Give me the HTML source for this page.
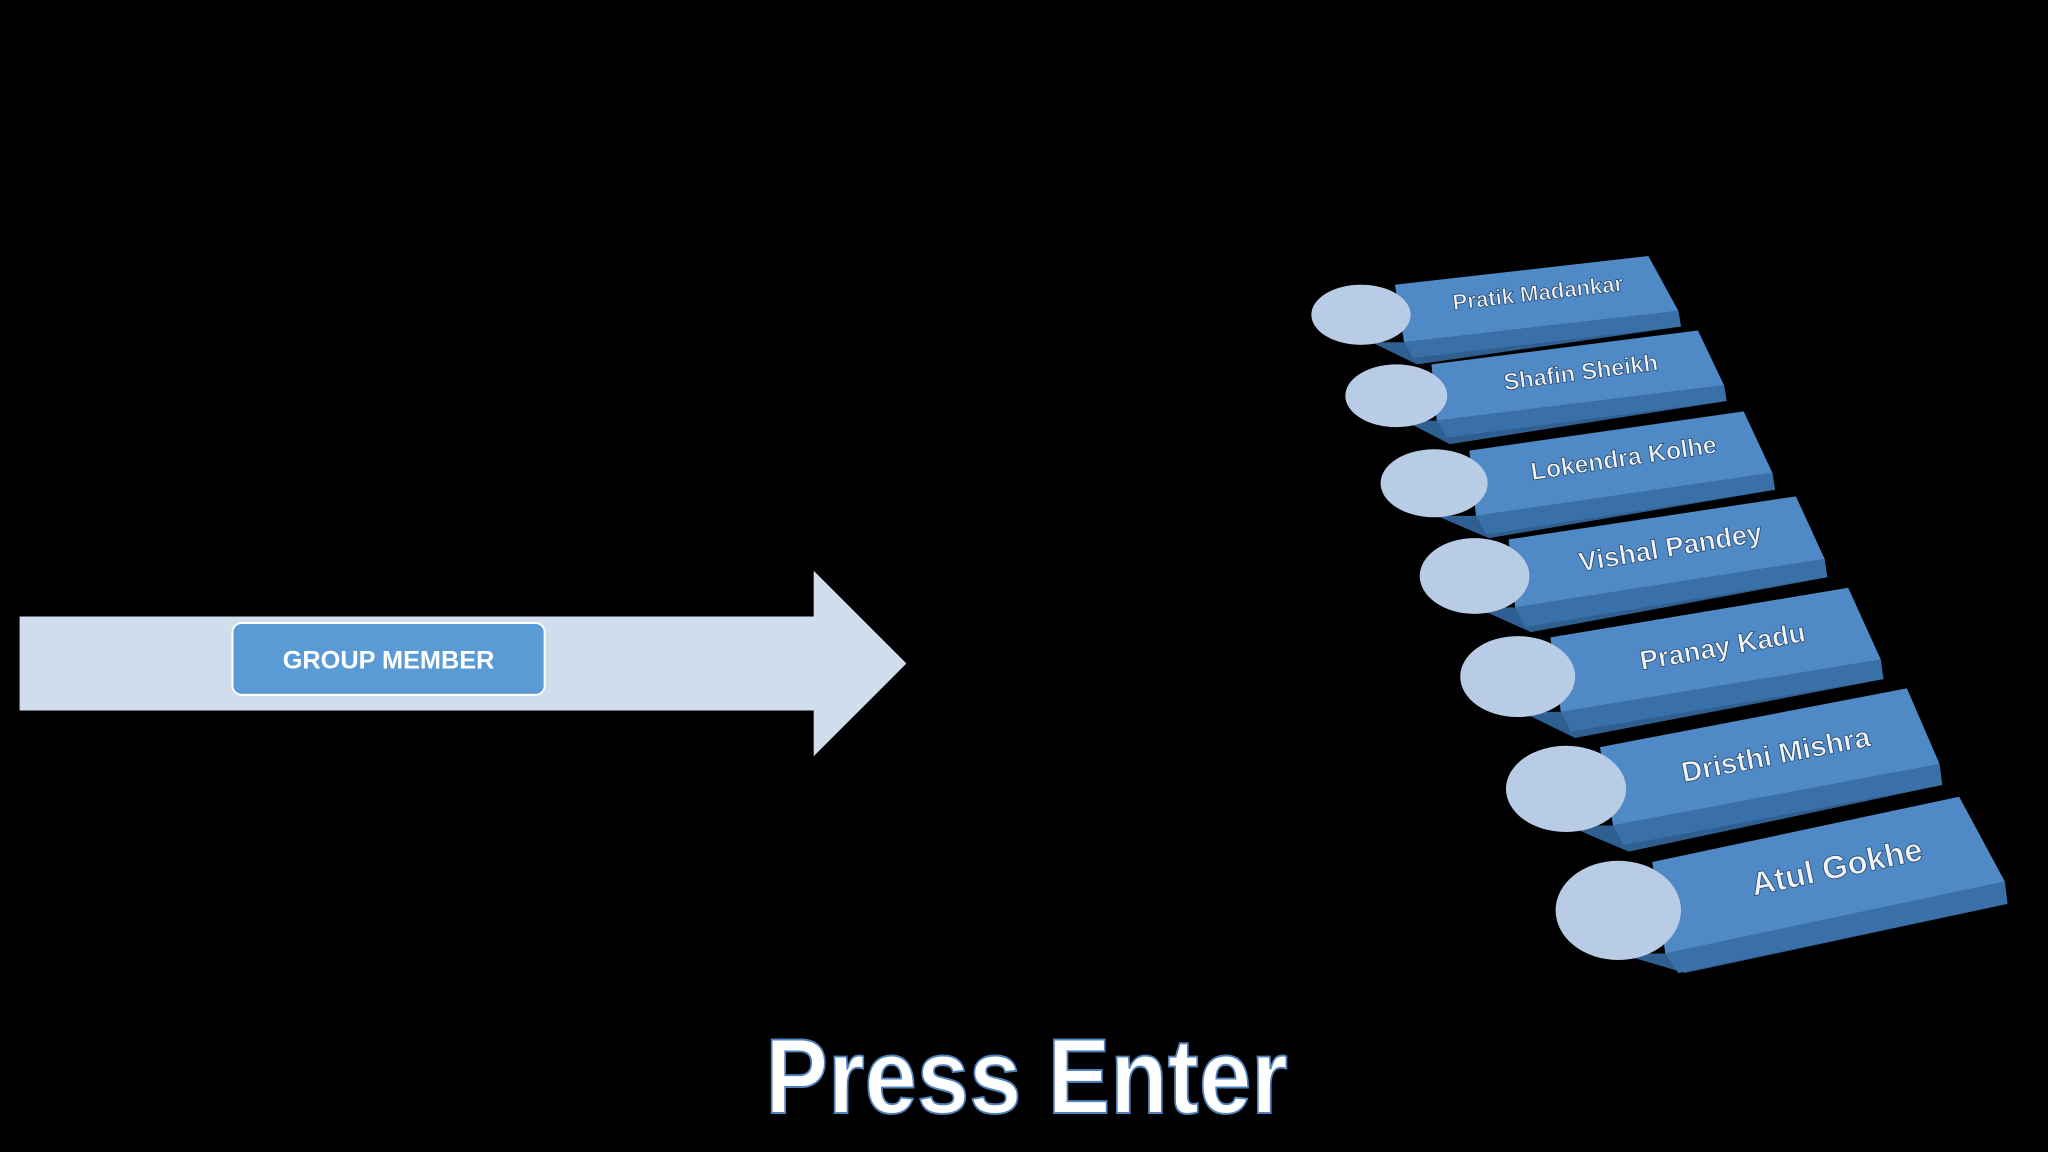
<!DOCTYPE html>
<html><head><meta charset="utf-8"><style>
html,body{margin:0;padding:0;background:#000;}
svg{display:block;}
</style></head><body>
<svg width="2048" height="1152" viewBox="0 0 1568 882" preserveAspectRatio="none" xmlns="http://www.w3.org/2000/svg" font-family="'Liberation Sans', sans-serif">
<rect width="1568" height="882" fill="#000"/>
<polygon points="15,472 623,472 623,437 694,508 623,579 623,544 15,544" fill="#d0dded"/>
<rect x="178" y="477" width="239" height="55" rx="7" fill="#5b9bd5" stroke="#ffffff" stroke-width="1.5"/>
<text x="297.5" y="512" text-anchor="middle" font-size="19" font-weight="bold" fill="#fff" textLength="162" lengthAdjust="spacingAndGlyphs">GROUP MEMBER</text>

<g id="items" font-weight="bold">
<polygon points="1050,262 1075,262 1285,238 1287,250 1085,279" fill="#2f5f90"/>
<polygon points="1068,218 1262,196 1285,238 1075,262" fill="#4f8ac6"/>
<polygon points="1075,262 1285,238 1287,250 1082,274" fill="#3a70a8"/>
<ellipse cx="1042" cy="241" rx="38" ry="23" fill="#b9cce6"/>
<text transform="translate(1178,230) rotate(-6.5)" text-anchor="middle" font-size="17" fill="#f2f2f2" stroke="#23476e" stroke-width="0.6">Pratik Madankar</text>

<polygon points="1075,322 1100,322 1320,295 1322,307 1110,340" fill="#2f5f90"/>
<polygon points="1096,279 1300,253 1320,295 1100,322" fill="#4f8ac6"/>
<polygon points="1100,322 1320,295 1322,307 1108,335" fill="#3a70a8"/>
<ellipse cx="1069" cy="303" rx="39" ry="24" fill="#b9cce6"/>
<text transform="translate(1211,291) rotate(-7.5)" text-anchor="middle" font-size="18" fill="#f2f2f2" stroke="#23476e" stroke-width="0.6">Shafin Sheikh</text>

<polygon points="1100,395 1130,395 1357,362 1359,375 1140,412" fill="#2f5f90"/>
<polygon points="1125,345 1335,315 1357,362 1130,395" fill="#4f8ac6"/>
<polygon points="1130,395 1357,362 1359,375 1138,409" fill="#3a70a8"/>
<ellipse cx="1098" cy="370" rx="41" ry="26" fill="#b9cce6"/>
<text transform="translate(1244,357) rotate(-8.5)" text-anchor="middle" font-size="19" fill="#f2f2f2" stroke="#23476e" stroke-width="0.6">Lokendra Kolhe</text>

<polygon points="1130,465 1160,465 1397,428 1399,442 1172,484" fill="#2f5f90"/>
<polygon points="1155,413 1375,380 1397,428 1160,465" fill="#4f8ac6"/>
<polygon points="1160,465 1397,428 1399,442 1168,480" fill="#3a70a8"/>
<ellipse cx="1129" cy="441" rx="42" ry="29" fill="#b9cce6"/>
<text transform="translate(1280,426) rotate(-9.5)" text-anchor="middle" font-size="21" fill="#f2f2f2" stroke="#23476e" stroke-width="0.6">Vishal Pandey</text>

<polygon points="1165,545 1195,545 1440,505 1442,520 1206,565" fill="#2f5f90"/>
<polygon points="1187,488 1415,450 1440,505 1195,545" fill="#4f8ac6"/>
<polygon points="1195,545 1440,505 1442,520 1203,560" fill="#3a70a8"/>
<ellipse cx="1162" cy="518" rx="44" ry="31" fill="#b9cce6"/>
<text transform="translate(1320,502) rotate(-10)" text-anchor="middle" font-size="21" fill="#f2f2f2" stroke="#23476e" stroke-width="0.6">Pranay Kadu</text>

<polygon points="1200,632 1235,632 1485,585 1487,601 1247,652" fill="#2f5f90"/>
<polygon points="1225,572 1460,527 1485,585 1235,632" fill="#4f8ac6"/>
<polygon points="1235,632 1485,585 1487,601 1243,647" fill="#3a70a8"/>
<ellipse cx="1199" cy="604" rx="46" ry="33" fill="#b9cce6"/>
<text transform="translate(1361,585) rotate(-11)" text-anchor="middle" font-size="22" fill="#f2f2f2" stroke="#23476e" stroke-width="0.6">Dristhi Mishra</text>

<polygon points="1240,730 1275,730 1535,675 1537,692 1290,745" fill="#2f5f90"/>
<polygon points="1265,660 1500,610 1535,675 1275,730" fill="#4f8ac6"/>
<polygon points="1275,730 1535,675 1537,692 1285,745" fill="#3a70a8"/>
<ellipse cx="1239" cy="697" rx="48" ry="38" fill="#b9cce6"/>
<text transform="translate(1408,672) rotate(-12)" text-anchor="middle" font-size="25" fill="#f2f2f2" stroke="#23476e" stroke-width="0.6">Atul Gokhe</text>
</g>

<text x="586" y="852" textLength="400" lengthAdjust="spacingAndGlyphs" font-size="82" font-weight="bold" fill="#ffffff" stroke="#4f81bd" stroke-width="1.5">Press Enter</text>
</svg>
</body></html>
